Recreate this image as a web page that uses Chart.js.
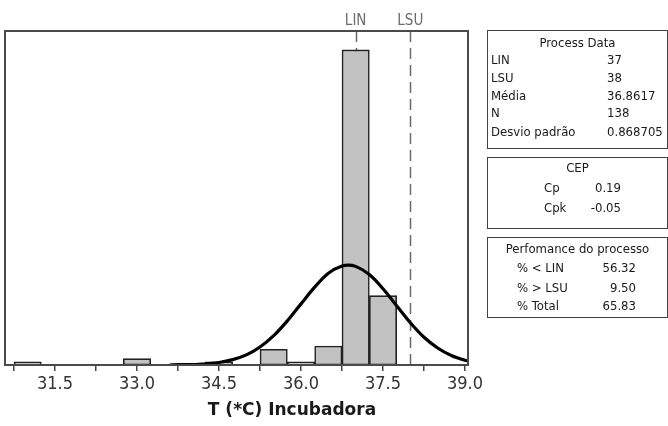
<!DOCTYPE html>
<html>
<head>
<meta charset="utf-8">
<script src="https://cdn.jsdelivr.net/npm/chart.js@4/dist/chart.umd.min.js"></script>
<style>
  html, body { margin: 0; padding: 0; background: #fff; }
  #wrap { position: relative; width: 668px; height: 426px; overflow: hidden; }
  #chart { position: absolute; left: 0; top: 0; }
  .box {
    position: absolute; left: 487px; width: 181px; box-sizing: border-box;
    border: 1.6px solid #404040;
    font-family: "DejaVu Sans Condensed", "DejaVu Sans", sans-serif;
    font-size: 13px; color: #1a1a1a;
  }
  .box span { position: absolute; line-height: 16px; white-space: nowrap; }
  .box .c { left: 0; right: 0; text-align: center; }
</style>
</head>
<body>
<div id="wrap">
  <canvas id="chart" width="668" height="426"></canvas>
  <div class="box" id="boxData" style="top:30px;height:119px"></div>
  <div class="box" id="boxCep" style="top:157px;height:72px"></div>
  <div class="box" id="boxPerf" style="top:237px;height:81px"></div>
</div>
<script>
// Histogram bins (centre, count), bin width 0.5
const binCenters = [31.0, 33.0, 34.5, 35.5, 36.0, 36.5, 37.0, 37.5];
const binCounts  = [1, 2, 1, 5, 1, 6, 100, 22];

// Fitted normal curve, in count units
const curveX = [33.6, 33.75, 34.0, 34.25, 34.5, 34.75, 35.0, 35.25, 35.5, 35.75, 36.0, 36.25, 36.5,
                36.75, 36.86, 37.0, 37.25, 37.5, 37.75, 38.0, 38.25, 38.5, 38.75, 39.0, 39.05];
const curveY = [0.0, 0.1, 0.1, 0.4, 0.8, 1.7, 3.2, 5.7, 9.3, 14.0, 19.4, 24.7, 29.1,
                31.4, 31.7, 31.3, 28.7, 24.2, 18.8, 13.4, 8.8, 5.4, 3.0, 1.5, 1.3];

// Axis ticks: labelled every 1.5, minor marks in between
const tickValues = [30.75, 31.5, 32.25, 33.0, 33.75, 34.5, 35.25, 36.0, 36.75, 37.5, 38.25, 39.0];
const tickLabels = ['', '31.5', '', '33.0', '', '34.5', '', '36.0', '', '37.5', '', '39.0'];

// Specification limits
const specNames  = ['LIN', 'LSU'];
const specValues = [37, 38];

// Summary tables
const dataLabels = ['LIN', 'LSU', 'Média', 'N', 'Desvio padrão'];
const dataValues = ['37', '38', '36.8617', '138', '0.868705'];
const cepLabels  = ['Cp', 'Cpk'];
const cepValues  = ['0.19', '-0.05'];
const perfLabels = ['% < LIN', '% > LSU', '% Total'];
const perfValues = ['56.32', '9.50', '65.83'];

const xTitle = 'T (*C) Incubadora';

function fillBox(id, title, titleY, labels, values, rowYs, labelX, valueX, valueAlign) {
  const box = document.getElementById(id);
  const t = document.createElement('span');
  t.className = 'c'; t.textContent = title; t.style.top = (titleY - 8) + 'px';
  box.appendChild(t);
  labels.forEach((lab, i) => {
    const a = document.createElement('span');
    a.textContent = lab; a.style.left = labelX + 'px'; a.style.top = (rowYs[i] - 8) + 'px';
    box.appendChild(a);
    const b = document.createElement('span');
    b.textContent = values[i]; b.style.top = (rowYs[i] - 8) + 'px';
    if (valueAlign === 'right') { b.style.right = (181 - 3 - valueX) + 'px'; }
    else { b.style.left = valueX + 'px'; }
    box.appendChild(b);
  });
}
fillBox('boxData', 'Process Data', 12, dataLabels, dataValues, [29, 47, 65, 82, 101], 3, 119, 'left');
fillBox('boxCep', 'CEP', 10, cepLabels, cepValues, [30, 50], 56, 132, 'right');
fillBox('boxPerf', 'Perfomance do processo', 11, perfLabels, perfValues, [30, 50, 68], 29, 147, 'right');

const framePlugin = {
  id: 'frameAndSpecs',
  beforeDatasetsDraw(chart) {
    const { ctx, chartArea: a, scales: { x } } = chart;
    ctx.save();
    ctx.strokeStyle = '#6a6a6a';
    ctx.lineWidth = 1.5;
    ctx.setLineDash([11, 6]);
    specValues.forEach(v => {
      const px = Math.round(x.getPixelForValue(v)) + 0.5;
      ctx.beginPath();
      ctx.moveTo(px, a.top);
      ctx.lineTo(px, a.bottom);
      ctx.stroke();
    });
    ctx.setLineDash([]);
    ctx.fillStyle = '#6c6c6c';
    ctx.font = '15px "DejaVu Sans Condensed", "DejaVu Sans", sans-serif';
    ctx.textAlign = 'center';
    ctx.textBaseline = 'middle';
    specValues.forEach((v, i) => {
      ctx.fillText(specNames[i], x.getPixelForValue(v), a.top - 10);
    });
    ctx.restore();
  },
  afterDatasetsDraw(chart) {
    const { ctx, chartArea: a } = chart;
    ctx.save();
    ctx.strokeStyle = '#4a4a4a';
    ctx.lineWidth = 2;
    ctx.strokeRect(a.left, a.top, a.right - a.left, a.bottom - a.top);
    ctx.fillStyle = '#1a1a1a';
    ctx.font = 'bold 17px "DejaVu Sans", sans-serif';
    ctx.textAlign = 'center';
    ctx.textBaseline = 'middle';
    ctx.fillText(xTitle, 292, 411);
    ctx.restore();
  }
};

new Chart(document.getElementById('chart'), {
  type: 'bar',
  data: {
    datasets: [
      {
        type: 'line',
        data: curveX.map((v, i) => ({ x: v, y: curveY[i] })),
        borderColor: '#000',
        borderWidth: 3.2,
        pointRadius: 0,
        cubicInterpolationMode: 'monotone',
        fill: false,
        order: 0
      },
      {
        type: 'bar',
        data: binCenters.map((v, i) => ({ x: v, y: binCounts[i] })),
        backgroundColor: '#c2c2c2',
        borderColor: '#222',
        borderWidth: 1.6,
        borderSkipped: false,
        barPercentage: 1,
        categoryPercentage: 1,
        grouped: false,
        order: 1
      }
    ]
  },
  options: {
    responsive: false,
    animation: false,
    layout: { padding: { left: 5, top: 31, right: 200, bottom: 0 } },
    plugins: { legend: { display: false }, tooltip: { enabled: false } },
    scales: {
      x: {
        type: 'linear',
        min: 30.585,
        max: 39.055,
        offset: false,
        border: { display: false },
        grid: { display: true, drawOnChartArea: false, drawTicks: true, tickLength: 6, color: '#444', lineWidth: 1.5, offset: false },
        afterBuildTicks: (scale) => { scale.ticks = tickValues.map(v => ({ value: v })); },
        afterFit: (scale) => { scale.height = 61; },
        ticks: {
          autoSkip: false,
          maxRotation: 0,
          padding: 3,
          color: '#333',
          font: { family: '"DejaVu Sans Condensed", "DejaVu Sans", sans-serif', size: 18 },
          callback: (value, index) => tickLabels[index]
        }
      },
      y: { display: false, min: 0, max: 106 }
    }
  },
  plugins: [framePlugin]
});
</script>
</body>
</html>
